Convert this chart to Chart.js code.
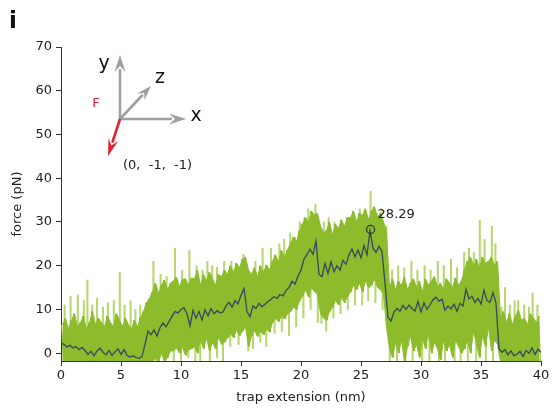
<!DOCTYPE html>
<html>
<head>
<meta charset="utf-8">
<script src="https://cdn.jsdelivr.net/npm/chart.js@4.4.1/dist/chart.umd.min.js"></script>
<style>
html,body{margin:0;padding:0;background:#fff;}
canvas{display:block;}
</style>
</head>
<body>
<canvas id="c" width="552" height="410"></canvas>
<script>
// ---------- DATA ----------
const extensionStep = 0.25; // nm between samples of the arrays below
const xTicks = [0, 5, 10, 15, 20, 25, 30, 35, 40];
const yTicks = [0, 10, 20, 30, 40, 50, 60, 70];

// smoothed force (dark line), samples at 0, 0.25, ... 40 nm
const forceSmooth = [
  2.3,2.0,1.4,1.8,1.2,1.5,0.8,1.3,0.6,-0.3,0.4,-0.6,0.5,1.1,0.2,-0.4,0.6,-0.5,0.3,1.0,-0.3,0.8,-0.5,-0.9,-0.6,-1.0,
  -1.2,-0.8,2.0,5.0,
  4.2,5.3,3.9,5.8,6.9,6.0,7.2,8.4,9.5,9.2,10.0,10.4,
  9.0,6.2,9.8,8.0,9.5,7.6,9.9,8.5,10.2,9.0,9.7,9.2,
  9.4,10.8,11.6,10.5,12.0,11.3,13.2,14.8,9.5,8.3,10.8,10.2,
  11.4,10.6,11.2,11.8,12.3,12.9,12.5,13.4,13.1,14.3,15.0,16.4,
  15.8,17.6,19.0,21.5,22.5,23.8,22.6,25.6,18.0,17.5,20.5,18.2,
  20.9,18.6,20.0,19.0,21.2,20.3,22.5,23.8,22.0,23.6,21.8,24.6,
  22.5,28.0,24.0,23.0,24.4,23.2,16.0,8.2,7.3,9.4,10.2,9.6,
  10.9,10.0,11.0,10.2,9.6,11.8,9.4,11.5,10.0,11.0,12.2,12.8,
  11.9,12.3,9.8,10.8,10.1,11.2,9.6,11.4,10.8,14.6,12.4,13.0,
  11.6,12.5,11.2,14.4,12.0,11.6,13.8,11.4,1.0,0.2,0.8,-0.4,
  0.5,-0.6,-0.2,0.4,-0.8,0.6,0.0,1.2,-0.3,0.9,0.2
];

// raw force trace (green): one low and one high excursion per 0.25 nm
const bandLow = [
  -2,-2,-2,-2,-2,-2,-2,-2,-2,-2,-2,-2,-2,-2,-2,-2,-2,-2,-2,-2,-2,-2,-2,-2,-2,-2,
  -2,-2,-2,-2,
  -2,-1,-2,0,-2,-1,0.5,
  0.5,1.2,0,1.4,-0.5,0.8,1.0,
  1.5,0,3,1,3.5,0.5,2.5,1,3.7,2,
  2.5,3.5,
  4.5,3.5,5.3,4,5,6,
  1.5,
  4,5.2,3.8,5,4.2,5.5,4.8,
  7,8,7.2,8.5,7.8,9,
  9.5,10.5,10,12,
  13,14.5,12.8,15,14,13.5,
  9,8,
  7.5,9.5,10.5,12,11,12.8,11.5,13,
  14,15.5,14.5,16,14,16.5,15,15.5,17,15,14.5,13.5,
  6,
  1,-1,2.5,0,3,-2,1.5,4,0.5,2,-1,3.5,1,4.5,0,2.5,1,-1.5,3,0.5,2,-1,3,1.5,0,
  1,3,0,5,2,-1,4,1.5,6,0.5,3,2,
  -2,-2,-2,-2,-2,-2,-2,-2,-2,-2,-2,-2,-2,-2
];
const bandHigh = [
  6.5,8,5.5,7.5,9,6,7,8.5,5.5,7,9.5,6.5,8,7,6,8.5,7,6,9,7.5,6,8,6.5,5.5,7.5,6,
  8,9.5,11.5,12.5,
  14,16,13.7,15.5,16.7,14.5,16,
  16.5,17.4,15.2,16.8,17,15.5,17.2,
  17,19,15.5,18,16.5,18.5,17,15.5,18,17.5,
  19,18,
  20,18.5,20.6,19.5,21.5,22,
  19,
  18,19.5,17.5,20,18.5,20.2,19,
  21,22.5,20.8,23.5,22,23.6,
  25,26.5,25.5,28,
  29.5,31,30,32.5,31.5,32,
  29,27.5,
  28,30,27,29.5,28.5,30.5,29,31,
  31,32.5,30,32,31.5,33,30.5,32.5,33.5,31,32,30,
  28,
  15,17,14.5,16.5,15.5,17.4,14.5,16,17,15,16.5,14,17,15.5,16.5,17.5,15,16,14.5,17,16,15,17.2,15.5,16.5,
  19,21,22,20,21.5,19.5,22,20.5,21,22,20,21,
  8,9.5,7,9,6.5,8.5,9.8,7.5,8,6.5,9,8,7,8.5
];

// isolated noise spikes (light green): position, low, high
const spikeX = [
  0.3,0.8,1.4,1.9,2.2,2.6,3.0,3.5,3.9,4.4,4.9,5.3,5.8,6.2,6.6,
  7.7,8.3,8.8,9.5,10.1,10.7,11.3,11.8,12.2,12.6,13.0,13.6,14.2,14.6,15.2,16.2,16.8,17.5,18.2,18.6,19.1,19.5,19.9,20.3,20.6,21.2,21.9,22.3,22.8,23.4,23.9,24.4,24.9,25.3,25.8,26.3,26.7,27.1,
  27.6,28.1,28.6,29.2,29.7,30.3,30.8,31.4,31.9,32.5,33.0,33.6,34.0,34.4,34.9,35.3,35.9,36.2,
  36.7,37.0,37.4,37.8,38.1,38.6,39.0,39.3,39.7,
  7.9,9.4,10.0,10.6,11.2,11.6,12.4,13.0,13.5,14.1,14.8,15.6,16.0,16.6,17.1,17.8,18.4,19.0,19.6,20.2,20.8,21.4,21.7,22.1,22.7,23.3,23.9,24.5,25.1,25.6,26.2,26.8,
  27.4,28.0,28.7,29.3,30.1,30.7,31.5,32.0,32.8,33.3,33.9,34.6,35.4,36.0
];
const spikeLow = [
  2,2,1,1,0,0,0,0,0,0,0,0,0,0,0,
  5,5,6,9,9,8,8,8,9,9,9,10,11,11,13,10,11,12,13,13,15,16,18,21,22,24,18,18,19,19,21,22,22,23,24,23,23,16,
  8,10,10,10,10,10,11,12,11,10,10,11,12,12,12,13,12,11,
  0,0,0,0,0,0,0,0,0,
  -2,-2,-2,-1,-2,-2,-2,-1,-2,1.5,2,0.5,1,2.5,1.5,4.5,5,4,6,8,10,7,6.8,5,8,9,10,11,11,12,11.5,10,
  -2,-2,-2,-2,-2,-2,-2,-2,-2,-2,-2,-2,-2,-2
];
const spikeHigh = [
  11,13,13.3,12,16.7,11,12.5,10.5,11.5,12,18.5,11,12,10,11,
  21,18,17.5,24,19,23.6,20,19,21,20,19.6,21,21,20.5,22.6,21,24,24,25,26,27.5,26.5,30,31,33,34,30,31,30,29,31,32,33,32,37,32,33,29,
  19,20,19.5,21,19,20,19,21,20,21.5,19.5,23,24,23,30.4,26,29,25,
  10.5,15,11,12,12,11,10.5,13.7,11,
  6,8,9,8,8,8,9,9,9,11,11,9,10,11,11,12,13,14,15,20,22,18,17,18,19,19,21,22,22,22,23,23,
  8,10,10,10,10,10,11,10,10,10,12,11,12,12
];

// marked maximum
const peakX = [25.8];
const peakForce = [28.29];

// ---------- build datasets ----------
const smoothPts = forceSmooth.map((v, i) => ({x: i * extensionStep, y: v}));
const upperPts = bandHigh.map((v, i) => ({x: (i + 0.5) * extensionStep, y: v}));
const lowerPts = bandLow.map((v, i) => ({x: (i + 0.5) * extensionStep, y: v}));
// raw trace texture: each 0.25 nm bin contributes its high then its low excursion
const tracePts = [];
bandLow.forEach((lo, i) => {
  const x0 = i * extensionStep;
  tracePts.push({x: x0 + extensionStep * 0.2, y: bandHigh[i]});
  tracePts.push({x: x0 + extensionStep * 0.8, y: lo});
});
const spikePts = spikeX.map((x, i) => ({x: x, y: [spikeLow[i], spikeHigh[i]]}));
const peakPts = peakX.map((x, i) => ({x: x, y: peakForce[i]}));

const FONT = "'DejaVu Sans', sans-serif";
const GREEN = '#8cbc2b';

function arrow(ctx, x0, y0, x1, y1, color, lw, headLen, headW) {
  const a = Math.atan2(y1 - y0, x1 - x0);
  const bx = x1 - headLen * Math.cos(a), by = y1 - headLen * Math.sin(a);
  ctx.save();
  ctx.strokeStyle = color; ctx.fillStyle = color; ctx.lineWidth = lw;
  ctx.beginPath(); ctx.moveTo(x0, y0); ctx.lineTo(bx + 3 * Math.cos(a), by + 3 * Math.sin(a)); ctx.stroke();
  const nx = -Math.sin(a), ny = Math.cos(a);
  ctx.beginPath();
  ctx.moveTo(x1, y1);
  ctx.lineTo(bx + nx * headW / 2, by + ny * headW / 2);
  ctx.lineTo(x1 - headLen * 0.65 * Math.cos(a), y1 - headLen * 0.65 * Math.sin(a));
  ctx.lineTo(bx - nx * headW / 2, by - ny * headW / 2);
  ctx.closePath(); ctx.fill();
  ctx.restore();
}

const decor = {
  id: 'decor',
  afterDatasetsDraw(chart) {
    const ctx = chart.ctx;
    const meta = chart.getDatasetMeta(1);
    meta.data.forEach((pt, i) => {
      ctx.save();
      ctx.font = "13px " + FONT;
      ctx.fillStyle = '#222';
      ctx.textAlign = 'left';
      ctx.textBaseline = 'middle';
      ctx.fillText(peakForce[i].toFixed(2), pt.x + 7, pt.y - 15);
      ctx.restore();
    });
  },
  afterDraw(chart) {
    const ctx = chart.ctx;
    ctx.save();
    ctx.font = "bold 23px " + FONT;
    ctx.fillStyle = '#111';
    ctx.textBaseline = 'alphabetic';
    ctx.fillText('i', 9, 28);
    const ox = 120, oy = 119;
    const g = '#a0a0a0';
    arrow(ctx, ox, oy, ox, 55, g, 2.6, 17, 11);
    arrow(ctx, ox, oy, 186, oy, g, 2.6, 17, 11);
    arrow(ctx, ox, oy, 151, 86, g, 2.6, 15, 10);
    arrow(ctx, ox, oy, 108, 156, '#e5202e', 2.6, 17, 10);
    ctx.fillStyle = '#111';
    ctx.font = "19px " + FONT;
    ctx.textAlign = 'center';
    ctx.textBaseline = 'middle';
    ctx.fillText('y', 104, 64);
    ctx.fillText('z', 160, 78);
    ctx.fillText('x', 196, 116);
    ctx.font = "13px " + FONT;
    ctx.fillStyle = '#e5203a';
    ctx.fillText('F', 96, 104);
    ctx.fillStyle = '#222';
    ctx.textAlign = 'left';
    ctx.fillText('(0,  -1,  -1)', 123, 166);
    ctx.restore();
  }
};

new Chart(document.getElementById('c'), {
  type: 'bar',
  data: {
    datasets: [
      {type: 'line', data: smoothPts, borderColor: '#37465f', borderWidth: 1.3, pointRadius: 0, tension: 0, order: 0},
      {type: 'line', data: peakPts, showLine: false, pointRadius: 4, pointBorderWidth: 1.2,
       pointBorderColor: '#333', pointBackgroundColor: 'rgba(0,0,0,0)', order: -1},
      {type: 'line', data: upperPts, borderColor: GREEN, borderWidth: 1, pointRadius: 0, tension: 0, fill: false, order: 1},
      {type: 'line', data: lowerPts, borderColor: GREEN, borderWidth: 1, pointRadius: 0, tension: 0,
       fill: '-1', backgroundColor: GREEN, order: 1},
      {type: 'line', data: tracePts, borderColor: GREEN, borderWidth: 1.1, pointRadius: 0, tension: 0, order: 1},
      {type: 'bar', data: spikePts, backgroundColor: '#b6d66e', barThickness: 1.4, grouped: false, borderWidth: 0, order: 2}
    ]
  },
  options: {
    responsive: false,
    animation: false,
    layout: {padding: {left: 8, top: 47, right: 11, bottom: 0}},
    plugins: {legend: {display: false}, tooltip: {enabled: false}},
    scales: {
      x: {
        type: 'linear', min: 0, max: 40, offset: false,
        afterBuildTicks: s => { s.ticks = xTicks.map(v => ({value: v})); },
        afterFit: s => { s.height = 49; },
        grid: {display: true, drawOnChartArea: false, drawTicks: true, tickLength: 5, color: '#333', offset: false},
        border: {display: true, color: '#333', width: 1},
        ticks: {font: {family: FONT, size: 13}, color: '#222', padding: 2, maxRotation: 0},
        title: {display: true, text: 'trap extension (nm)', font: {family: FONT, size: 13}, color: '#222', padding: {top: 0, bottom: 5}}
      },
      y: {
        type: 'linear', min: -1.8, max: 70,
        afterBuildTicks: s => { s.ticks = yTicks.map(v => ({value: v})); },
        afterFit: s => { s.width = 53; },
        grid: {display: true, drawOnChartArea: false, drawTicks: true, tickLength: 5, color: '#333'},
        border: {display: true, color: '#333', width: 1},
        ticks: {font: {family: FONT, size: 13}, color: '#222', padding: 4},
        title: {display: true, text: 'force (pN)', font: {family: FONT, size: 13}, color: '#222', padding: {top: 2, bottom: 0}}
      }
    }
  },
  plugins: [decor]
});
</script>
</body>
</html>
